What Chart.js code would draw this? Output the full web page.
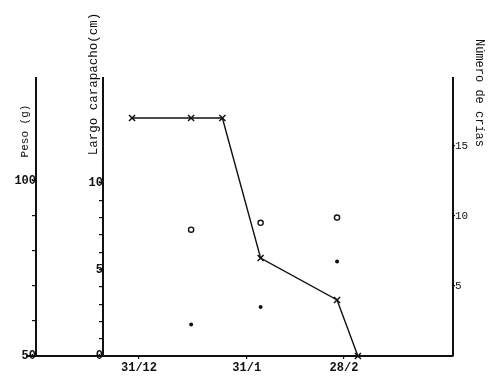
<!DOCTYPE html>
<html>
<head>
<meta charset="utf-8">
<script src="https://cdn.jsdelivr.net/npm/chart.js@4/dist/chart.umd.min.js"></script>
<style>
  html, body { margin: 0; padding: 0; background: #fff; }
  #wrap { width: 500px; height: 390px; position: relative; }
</style>
</head>
<body>
<div id="wrap"><canvas id="c" width="500" height="390"></canvas></div>
<script>
// Days counted from 31/12
const crossDays   = [-2, 15, 24, 35, 57, 63];
const criasValues = [17, 17, 17, 7, 4, 0];
const sampleDays  = [15, 35, 57];
const largoValues = [7.3, 7.7, 8.0];
const pesoValues  = [59, 64, 77];

const xTickValues = [0, 31, 59];
const xTickLabels = ['31/12', '31/1', '28/2'];
const pesoTicks   = [50, 60, 70, 80, 90, 100];
const pesoLabels  = { 50: '50', 100: '100' };
const largoTicks  = [0, 1, 2, 3, 4, 5, 6, 7, 8, 9, 10];
const largoLabels = { 0: '0', 5: '5', 10: '10' };
const criasTicks  = [5, 10, 15];

const titlePeso  = 'Peso (g)';
const titleLargo = 'Largo carapacho(cm)';
const titleCrias = 'Número de crías';

const MONO = '"Liberation Mono", "DejaVu Sans Mono", monospace';

function toPts(xs, ys) { return xs.map((x, i) => ({ x: x, y: ys[i] })); }

const titlesPlugin = {
  id: 'titles',
  afterDraw(chart) {
    const ctx = chart.ctx;
    ctx.save();
    ctx.fillStyle = '#111';
    ctx.textAlign = 'center';
    ctx.textBaseline = 'middle';
    ctx.save();
    ctx.font = '11px ' + MONO;
    ctx.translate(25, 131);
    ctx.rotate(-Math.PI / 2);
    ctx.fillText(titlePeso, 0, 0);
    ctx.restore();
    ctx.save();
    ctx.font = '12.5px ' + MONO;
    ctx.translate(94, 84);
    ctx.rotate(-Math.PI / 2);
    ctx.fillText(titleLargo, 0, 0);
    ctx.restore();
    ctx.save();
    ctx.font = '12px ' + MONO;
    ctx.translate(479, 93);
    ctx.rotate(Math.PI / 2);
    ctx.fillText(titleCrias, 0, 0);
    ctx.restore();
    ctx.restore();
  }
};

const axisCommon = {
  border: { display: true, color: '#111', width: 2 },
  grid: { drawOnChartArea: false, drawTicks: true, tickLength: 3, color: '#111', lineWidth: 1.2 },
};

new Chart(document.getElementById('c'), {
  type: 'scatter',
  data: {
    datasets: [
      {
        label: 'Número de crías',
        data: toPts(crossDays, criasValues),
        yAxisID: 'crias',
        showLine: true,
        borderColor: '#111',
        borderWidth: 1.4,
        pointStyle: 'crossRot',
        pointRadius: 4.3,
        pointBorderWidth: 1.5,
        pointBorderColor: '#111',
        clip: false
      },
      {
        label: 'Largo carapacho',
        data: toPts(sampleDays, largoValues),
        yAxisID: 'largo',
        showLine: false,
        pointStyle: 'circle',
        pointRadius: 2.6,
        pointBorderWidth: 1.4,
        pointBorderColor: '#111',
        pointBackgroundColor: '#fff',
        clip: false
      },
      {
        label: 'Peso',
        data: toPts(sampleDays, pesoValues),
        yAxisID: 'peso',
        showLine: false,
        pointStyle: 'circle',
        pointRadius: 2,
        pointBorderWidth: 0,
        pointBackgroundColor: '#111',
        clip: false
      }
    ]
  },
  options: {
    responsive: false,
    animation: false,
    devicePixelRatio: 1,
    layout: { padding: { top: 78, left: 27, right: 0, bottom: 0 } },
    plugins: { legend: { display: false }, tooltip: { enabled: false } },
    scales: {
      x: {
        type: 'linear',
        position: 'bottom',
        min: -32.23,
        max: 90.37,
        ...axisCommon,
        afterFit: s => { s.height = 34; },
        afterBuildTicks: s => { s.ticks = xTickValues.map(v => ({ value: v })); },
        ticks: {
          color: '#111',
          padding: 2,
          font: { family: MONO, size: 12, weight: 'bold' },
          maxRotation: 0,
          autoSkip: false,
          callback: v => { const i = xTickValues.indexOf(v); return i >= 0 ? xTickLabels[i] : ''; }
        }
      },
      peso: {
        type: 'linear',
        position: { x: -29.64 },
        min: 50,
        max: 129.4,
        ...axisCommon,
        afterBuildTicks: s => { s.ticks = pesoTicks.map(v => ({ value: v })); },
        ticks: {
          color: '#111',
          padding: 0,
          font: { family: MONO, size: 12, weight: 'bold' },
          autoSkip: false,
          callback: v => pesoLabels[v] || ''
        }
      },
      largo: {
        type: 'linear',
        position: { x: -10.36 },
        min: 0,
        max: 16.07,
        ...axisCommon,
        afterBuildTicks: s => { s.ticks = largoTicks.map(v => ({ value: v })); },
        ticks: {
          color: '#111',
          padding: 4,
          font: { family: MONO, size: 12, weight: 'bold' },
          autoSkip: false,
          callback: v => largoLabels[v] || ''
        }
      },
      crias: {
        type: 'linear',
        position: 'right',
        min: 0,
        max: 19.86,
        ...axisCommon,
        grid: { drawOnChartArea: false, drawTicks: true, tickLength: 2, color: '#111', lineWidth: 1.2 },
        afterFit: s => { s.width = 47; },
        afterBuildTicks: s => { s.ticks = criasTicks.map(v => ({ value: v })); },
        ticks: {
          color: '#111',
          padding: 0,
          font: { family: MONO, size: 11 },
          autoSkip: false
        }
      }
    }
  },
  plugins: [titlesPlugin]
});
</script>
</body>
</html>
